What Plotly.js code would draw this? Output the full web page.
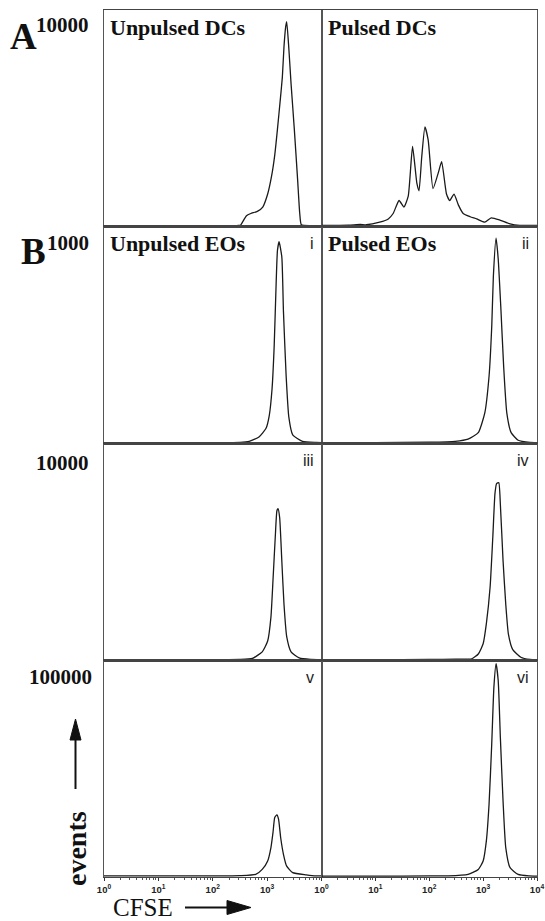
<!DOCTYPE html>
<html><head><meta charset="utf-8">
<script src="https://cdn.plot.ly/plotly-3.0.1.min.js"></script>
<style>html,body{margin:0;padding:0;background:#fff;}</style>
</head><body>
<div id="chart" style="width:545px;height:921px;"></div>
<script>
// CFSE values are given as log10 exponents (decades), events as counts
const unpulsedDC_log   = [0, 1, 2, 2.45, 2.51, 2.62, 2.70, 2.82, 2.92, 3.01, 3.08, 3.14, 3.19, 3.24, 3.28, 3.31, 3.34, 3.36, 3.40, 3.44, 3.50, 3.56, 3.60, 3.63, 3.8, 4.0];
const unpulsedDC_events= [40, 40, 45, 45, 60, 500, 600, 700, 900, 1500, 2300, 3300, 4500, 5800, 6900, 8300, 9200, 9460, 8200, 6600, 4500, 2200, 600, 80, 40, 40];

const pulsedDC_log     = [0, 0.5, 0.72, 0.83, 1.08, 1.24, 1.33, 1.44, 1.53, 1.61, 1.69, 1.77, 1.81, 1.86, 1.92, 1.98, 2.07, 2.17, 2.23, 2.32, 2.38, 2.46, 2.54, 2.63, 2.76, 2.88, 3.03, 3.15, 3.31, 3.50, 3.68, 3.92, 4.0];
const pulsedDC_events  = [50, 60, 100, 80, 200, 350, 600, 1200, 900, 1400, 3700, 2000, 1650, 3200, 4600, 4000, 1750, 2500, 3000, 1500, 1200, 1500, 1000, 600, 450, 350, 200, 400, 300, 120, 50, 50, 50];

const unpulsedEO1_log    = [0, 1, 2, 2.5, 2.67, 2.85, 2.98, 3.04, 3.09, 3.13, 3.16, 3.19, 3.22, 3.27, 3.30, 3.35, 3.40, 3.47, 3.65, 3.90, 4.0];
const unpulsedEO1_events = [4, 4, 4, 5, 10, 30, 70, 130, 250, 450, 690, 890, 930, 860, 610, 310, 120, 40, 10, 5, 4];

const pulsedEO1_log    = [0, 1, 2, 2.48, 2.72, 2.91, 3.03, 3.11, 3.16, 3.19, 3.24, 3.28, 3.33, 3.38, 3.44, 3.52, 3.65, 3.87, 4.0];
const pulsedEO1_events = [4, 4, 6, 10, 20, 50, 140, 310, 540, 770, 946, 850, 620, 360, 140, 50, 15, 5, 4];

const unpulsedEO2_log    = [0, 1, 2, 2.5, 2.73, 2.91, 3.01, 3.07, 3.11, 3.15, 3.18, 3.20, 3.23, 3.27, 3.31, 3.36, 3.44, 3.59, 3.8, 4.0];
const unpulsedEO2_events = [40, 40, 40, 50, 100, 400, 900, 2000, 3800, 5700, 6900, 7000, 6600, 4600, 2600, 1100, 400, 120, 50, 40];

const pulsedEO2_log    = [0, 1, 2, 2.5, 2.79, 2.91, 3.00, 3.06, 3.13, 3.18, 3.22, 3.25, 3.29, 3.32, 3.37, 3.42, 3.47, 3.55, 3.7, 3.87, 4.0];
const pulsedEO2_events = [40, 40, 50, 60, 80, 300, 770, 1700, 3400, 5700, 7700, 8150, 8200, 7200, 4600, 2600, 1200, 500, 150, 50, 40];

const unpulsedEO3_log    = [0, 1, 2, 2.5, 2.79, 2.91, 3.01, 3.07, 3.11, 3.14, 3.18, 3.21, 3.25, 3.30, 3.36, 3.47, 3.72, 3.90, 4.0];
const unpulsedEO3_events = [500, 500, 500, 600, 1200, 3500, 7400, 13600, 21000, 27500, 28700, 26700, 18000, 10500, 5000, 2000, 1000, 500, 500];

const pulsedEO3_log    = [0, 1, 2, 2.35, 2.72, 2.91, 3.00, 3.06, 3.11, 3.16, 3.20, 3.24, 3.28, 3.32, 3.37, 3.42, 3.50, 3.65, 3.85, 4.0];
const pulsedEO3_events = [400, 400, 500, 500, 1200, 3500, 7400, 16700, 33600, 61700, 87700, 98500, 90700, 64500, 35000, 13600, 4300, 1200, 500, 400];

const rowMax      = [10000, 1000, 10000, 100000];
const rowMaxLabel = ['10000', '1000', '10000', '100000'];
const panelTitles = ['Unpulsed DCs', 'Pulsed DCs', 'Unpulsed EOs', 'Pulsed EOs', '', '', '', ''];
const panelTags   = ['', '', 'i', 'ii', 'iii', 'iv', 'v', 'vi'];
const tickVals    = [1, 10, 100, 1000, 10000];
const tickTextL   = ['10<sup>0</sup>', '10<sup>1</sup>', '10<sup>2</sup>', '10<sup>3</sup>', ' '];
const tickTextR   = ['10<sup>0</sup>', '10<sup>1</sup>', '10<sup>2</sup>', '10<sup>3</sup>', '10<sup>4</sup>'];

const series = [
  [unpulsedDC_log, unpulsedDC_events], [pulsedDC_log, pulsedDC_events],
  [unpulsedEO1_log, unpulsedEO1_events], [pulsedEO1_log, pulsedEO1_events],
  [unpulsedEO2_log, unpulsedEO2_events], [pulsedEO2_log, pulsedEO2_events],
  [unpulsedEO3_log, unpulsedEO3_events], [pulsedEO3_log, pulsedEO3_events]
];

const W = 545, H = 921;
const px = v => v / W, py = v => 1 - v / H;
const colEdges = [104, 321.5, 537];
const rowEdges = [10, 226.5, 443.5, 660.5, 877];

const SERIF = 'Liberation Serif, Times New Roman, serif';
const SANS = 'Liberation Sans, Arial, sans-serif';

const traces = [];
const layout = {
  width: W, height: H, margin: {l: 0, r: 0, t: 0, b: 0},
  paper_bgcolor: '#fff', plot_bgcolor: '#fff', showlegend: false,
  annotations: [], shapes: []
};

for (let k = 0; k < 8; k++) {
  const row = Math.floor(k / 2), col = k % 2;
  const n = k + 1;
  const sfx = n === 1 ? '' : String(n);
  const [lg, ev] = series[k];
  traces.push({
    type: 'scatter', mode: 'lines',
    x: lg.map(v => Math.pow(10, v)), y: ev,
    xaxis: 'x' + sfx, yaxis: 'y' + sfx,
    line: {color: '#1a1a1a', width: 1.3, shape: 'spline', smoothing: 0.5},
    hoverinfo: 'skip'
  });
  const bottom = row === 3;
  const xax = {
    type: 'log', range: [0, 4], domain: [px(colEdges[col]), px(colEdges[col + 1])],
    anchor: 'y' + sfx,
    showgrid: false, zeroline: false, showline: true, mirror: true,
    linecolor: '#444', linewidth: 1.4,
    showticklabels: bottom,
    tickmode: 'array', tickvals: tickVals, ticktext: col === 0 ? tickTextL : tickTextR,
    ticks: bottom ? 'outside' : '', ticklen: 3, tickwidth: 1, tickcolor: '#333',
    tickfont: {family: SANS, size: 9.5, color: '#222', weight: 'bold'},
    fixedrange: true
  };
  if (bottom) xax.minor = {ticks: 'outside', ticklen: 2, dtick: 'D1', tickcolor: '#555', tickwidth: 1};
  layout['xaxis' + sfx] = xax;
  layout['yaxis' + sfx] = {
    range: [0, rowMax[row]], domain: [py(rowEdges[row + 1]), py(rowEdges[row])],
    anchor: 'x' + sfx,
    showgrid: false, zeroline: false, showline: true, mirror: true,
    linecolor: '#555', linewidth: 1, showticklabels: false, ticks: '', fixedrange: true
  };
  if (panelTitles[k]) {
    layout.annotations.push({
      xref: 'paper', yref: 'paper', x: px(colEdges[col] + 4), y: py(rowEdges[row] + 17),
      xanchor: 'left', yanchor: 'middle', showarrow: false,
      text: '<b>' + panelTitles[k] + '</b>', font: {family: SERIF, size: 22, color: '#111'}
    });
  }
  if (panelTags[k]) {
    layout.annotations.push({
      xref: 'paper', yref: 'paper', x: px(colEdges[col + 1] - 6), y: py(rowEdges[row] + 17),
      xanchor: 'right', yanchor: 'middle', showarrow: false,
      text: panelTags[k], font: {family: SANS, size: 16, color: '#222'}
    });
  }
}

// row max labels
const rowLabelY = [25, 243, 463, 677];
for (let r = 0; r < 4; r++) {
  layout.annotations.push({
    xref: 'paper', yref: 'paper', x: px(r === 3 ? 94 : 91), y: py(rowLabelY[r]),
    xanchor: 'right', yanchor: 'middle', showarrow: false,
    text: '<b>' + rowMaxLabel[r] + '</b>', font: {family: SERIF, size: 21, color: '#111'}
  });
}
// panel letters
layout.annotations.push({xref: 'paper', yref: 'paper', x: px(8), y: py(36), xanchor: 'left', yanchor: 'middle',
  showarrow: false, text: '<b>A</b>', font: {family: SERIF, size: 37, color: '#111'}});
layout.annotations.push({xref: 'paper', yref: 'paper', x: px(19), y: py(251), xanchor: 'left', yanchor: 'middle',
  showarrow: false, text: '<b>B</b>', font: {family: SERIF, size: 37, color: '#111'}});
// axis titles
layout.annotations.push({xref: 'paper', yref: 'paper', x: px(111), y: py(907), xanchor: 'left', yanchor: 'middle',
  showarrow: false, text: 'CFSE', font: {family: SERIF, size: 25, color: '#111'}});
layout.annotations.push({xref: 'paper', yref: 'paper', x: px(76), y: py(849), xanchor: 'center', yanchor: 'middle',
  showarrow: false, textangle: -90, text: '<b>events</b>', font: {family: SERIF, size: 28, color: '#111'}});

// arrows
layout.shapes.push({type: 'line', xref: 'paper', yref: 'paper', x0: px(185), x1: px(230), y0: py(907.5), y1: py(907.5),
  line: {color: '#111', width: 2}});
layout.shapes.push({type: 'path', xref: 'paper', yref: 'paper',
  path: `M ${px(227)} ${py(900.5)} L ${px(251)} ${py(907.5)} L ${px(227)} ${py(914.5)} Z`,
  fillcolor: '#111', line: {color: '#111', width: 1}});
layout.shapes.push({type: 'line', xref: 'paper', yref: 'paper', x0: px(75.5), x1: px(75.5), y0: py(789), y1: py(737),
  line: {color: '#111', width: 2}});
layout.shapes.push({type: 'path', xref: 'paper', yref: 'paper',
  path: `M ${px(70)} ${py(740)} L ${px(75.5)} ${py(719)} L ${px(81)} ${py(740)} Z`,
  fillcolor: '#111', line: {color: '#111', width: 1}});

Plotly.newPlot('chart', traces, layout, {displayModeBar: false, staticPlot: true});
</script>
</body></html>
